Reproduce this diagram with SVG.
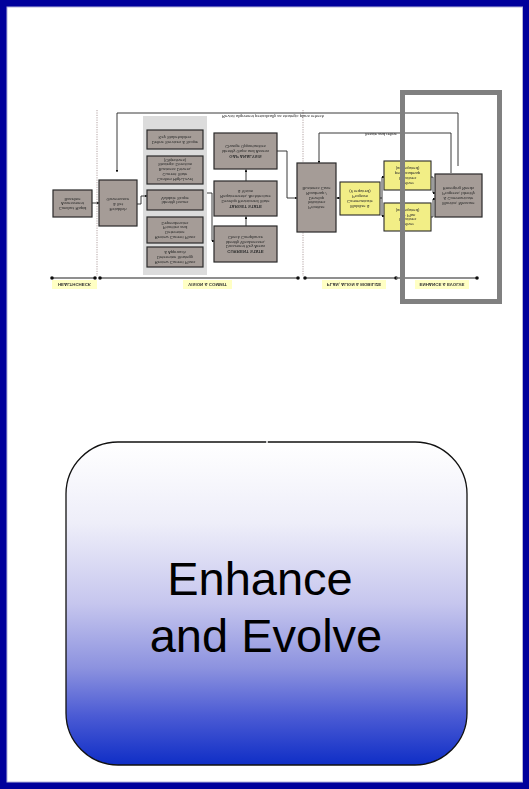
<svg xmlns="http://www.w3.org/2000/svg" width="529" height="789" viewBox="0 0 529 789">
  <defs>
    <linearGradient id="phaseFill" x1="0" y1="0" x2="0" y2="1">
      <stop offset="0" stop-color="#ffffff"/>
      <stop offset="0.25" stop-color="#eeeef9"/>
      <stop offset="0.5" stop-color="#c6c6ee"/>
      <stop offset="0.7" stop-color="#8c92df"/>
      <stop offset="0.85" stop-color="#4a5ad4"/>
      <stop offset="1" stop-color="#0f2ec6"/>
    </linearGradient>
    <marker id="arr" viewBox="0 0 6 6" refX="5.5" refY="3" markerWidth="3" markerHeight="3" orient="auto">
      <path d="M0,0 L6,3 L0,6 z" fill="#111"/>
    </marker>
    <marker id="dot" viewBox="0 0 6 6" refX="3" refY="3" markerWidth="3" markerHeight="3">
      <circle cx="3" cy="3" r="2.6" fill="#111"/>
    </marker>
    <filter id="soft" x="-2%" y="-2%" width="104%" height="104%">
      <feGaussianBlur stdDeviation="0.3"/>
    </filter>
  </defs>
  <style>
    .box { fill: #a59c97; stroke: #2a2a2a; stroke-width: 1.2; }
    .ybox { fill: #f2ee86; stroke: #2a2a2a; stroke-width: 1.1; }
    .lbl { fill: #ffffc4; }
    .t { font-family: "Liberation Sans", Arial, sans-serif; font-size: 4.2px; fill: #2b2b2b; text-anchor: middle; }
    .tb { font-family: "Liberation Sans", Arial, sans-serif; font-size: 4.4px; font-weight: bold; fill: #333; text-anchor: middle; }
    .conn { fill: none; stroke: #222; stroke-width: 0.9; }
    .phase { fill: none; stroke: #6a6a6a; stroke-width: 1.4; }
    .div { stroke: #a08c8c; stroke-width: 0.8; stroke-dasharray: 1.2 1.2; }
    .big { font-family: "Liberation Sans", Arial, sans-serif; font-size: 47px; fill: #000; text-anchor: middle; }
  </style>

  <!-- page frame -->
  <rect x="0" y="0" width="529" height="789" fill="#00009c"/>
  <rect x="7" y="7" width="515.5" height="775" fill="#ffffff" stroke="#b4b4dc" stroke-width="1"/>

  <!-- process map (printed mirrored top-to-bottom) -->
  <g id="process-map" filter="url(#soft)">
    <rect id="vision-panel" x="143" y="116" width="64" height="159" fill="#dcdcdc"/>
    <line class="div" x1="97" y1="110" x2="97" y2="276"/>
    <line class="div" x1="303" y1="110" x2="303" y2="276"/>

    <g id="connectors">
      <path class="conn" d="M458,166 V113 H117 V172" marker-end="url(#arr)"/>
      <path class="conn" d="M451,173 V133 H319 V163" marker-end="url(#arr)"/>
      <path class="conn" d="M92,203 H99" marker-end="url(#arr)"/>
      <path class="conn" d="M137,204 H141 V196 H147" marker-end="url(#arr)"/>
      <path class="conn" d="M207,193 H212 V241 H214.5" marker-end="url(#arr)"/>
      <path class="conn" d="M246,226 V216.5" marker-end="url(#arr)"/>
      <path class="conn" d="M246,181 V169.5" marker-end="url(#arr)"/>
      <path class="conn" d="M277,151 H287 V198 H297" marker-end="url(#arr)"/>
      <path class="conn" d="M340,198 H336.5" marker-end="url(#arr)"/>
      <path class="conn" d="M380,198 H382 V177 H384.5" marker-end="url(#arr)"/>
      <path class="conn" d="M382,198 V216 H384.5" marker-end="url(#arr)"/>
      <path class="conn" d="M431,177 H433 V193 H435.5" marker-end="url(#arr)"/>
      <path class="conn" d="M431,217 H433 V199 H435.5" marker-end="url(#arr)"/>
      <!-- phase timeline -->
      <path class="phase" d="M52,278 H95" marker-start="url(#dot)" marker-end="url(#dot)"/>
      <path class="phase" d="M100,278 H298" marker-start="url(#dot)" marker-end="url(#dot)"/>
      <path class="phase" d="M305,278 H396" marker-start="url(#dot)" marker-end="url(#dot)"/>
      <path class="phase" d="M396,278 H477" marker-end="url(#dot)"/>
      <g transform="translate(273,116.5) scale(1,-1)"><text class="t" x="0" y="1.2">Revisit alignment periodically as strategic plans refresh</text></g>
      <g transform="translate(381,134.5) scale(1,-1)"><text class="t" x="0" y="1.2">Iterate and refine</text></g>
    </g>

    <g id="healthcheck">
      <rect class="box" x="53" y="190" width="39" height="27"/>
      <g transform="translate(72.5,203.5) scale(1,-1)">
        <text class="t" y="-3.5">Conduct Rapid</text>
        <text class="t" y="1.2">Assessment</text>
        <text class="t" y="5.9">Baseline</text>
      </g>
    </g>
    <g id="establish">
      <rect class="box" x="99" y="180" width="38" height="46"/>
      <g transform="translate(118,203) scale(1,-1)">
        <text class="t" y="-4.5">Establish</text>
        <text class="t" y="0.2">&amp; Set</text>
        <text class="t" y="4.9">Governance</text>
      </g>
    </g>
    <g id="vision-1">
      <rect class="box" x="147" y="130" width="56" height="19"/>
      <g transform="translate(175,139.5) scale(1,-1)">
        <text class="t" y="-1.2">Define Services &amp; Scope</text>
        <text class="t" y="3.5">Key Stakeholders</text>
      </g>
    </g>
    <g id="vision-2">
      <rect class="box" x="147" y="156" width="56" height="28"/>
      <g transform="translate(175,170) scale(1,-1)">
        <text class="t" y="-7.5">Confirm High-Level</text>
        <text class="t" y="-2.8">Current State</text>
        <text class="t" y="1.9">Business Drivers,</text>
        <text class="t" y="6.6">Strategic Direction</text>
        <text class="t" y="11.3">(Objectives)</text>
      </g>
    </g>
    <g id="vision-3">
      <rect class="box" x="147" y="190" width="56" height="20"/>
      <g transform="translate(175,200) scale(1,-1)">
        <text class="t" y="-1.2">Identify Issues</text>
        <text class="t" y="3.5">Validate Scope</text>
      </g>
    </g>
    <g id="vision-4">
      <rect class="box" x="147" y="217" width="56" height="26"/>
      <g transform="translate(175,230) scale(1,-1)">
        <text class="t" y="-5.8">Review Current Plans</text>
        <text class="t" y="-1.1">Determine</text>
        <text class="t" y="3.6">Priorities and</text>
        <text class="t" y="8.3">Dependencies</text>
      </g>
    </g>
    <g id="vision-5">
      <rect class="box" x="147" y="247" width="56" height="20"/>
      <g transform="translate(175,257) scale(1,-1)">
        <text class="t" y="-3.5">Review Current Plans</text>
        <text class="t" y="1.2">Determine Strategy</text>
        <text class="t" y="5.9">&amp; Approach</text>
      </g>
    </g>
    <g id="gap-analysis">
      <rect class="box" x="214" y="133" width="63" height="36"/>
      <g transform="translate(245.5,151) scale(1,-1)">
        <text class="tb" y="-3.5">GAP ANALYSIS</text>
        <text class="t" y="1.2">Identify Gaps and Assess</text>
        <text class="t" y="5.9">Change Opportunities</text>
      </g>
    </g>
    <g id="target-state">
      <rect class="box" x="214" y="181" width="63" height="35"/>
      <g transform="translate(245.5,198.5) scale(1,-1)">
        <text class="tb" y="-6">TARGET STATE</text>
        <text class="t" y="-1.3">Develop Envisioned State</text>
        <text class="t" y="3.4">Requirements, Architecture</text>
        <text class="t" y="8.1">&amp; Vision</text>
      </g>
    </g>
    <g id="current-state">
      <rect class="box" x="214" y="226" width="63" height="36"/>
      <g transform="translate(245.5,244) scale(1,-1)">
        <text class="tb" y="-6">CURRENT STATE</text>
        <text class="t" y="-1.3">Document Key Areas</text>
        <text class="t" y="3.4">Identify Weaknesses,</text>
        <text class="t" y="8.1">Check Compliance</text>
      </g>
    </g>
    <g id="roadmap">
      <rect class="box" x="297" y="163" width="39" height="69"/>
      <g transform="translate(316.5,197.5) scale(1,-1)">
        <text class="t" y="-8.5">Prioritize</text>
        <text class="t" y="-3.8">Initiatives</text>
        <text class="t" y="0.9">Develop</text>
        <text class="t" y="5.6">Roadmap /</text>
        <text class="t" y="10.3">Business Case</text>
      </g>
    </g>
    <g id="mobilize">
      <rect class="ybox" x="340" y="182" width="40" height="33"/>
      <g transform="translate(360,198.5) scale(1,-1)">
        <text class="t" y="-6">Mobilize &amp;</text>
        <text class="t" y="-1.3">Communicate</text>
        <text class="t" y="3.4">Program</text>
        <text class="t" y="8.1">(if required)</text>
      </g>
    </g>
    <g id="deliver-1">
      <rect class="ybox" x="384" y="161" width="47" height="29"/>
      <g transform="translate(407.5,175.5) scale(1,-1)">
        <text class="t" y="-6">Deliver</text>
        <text class="t" y="-1.3">Initiatives</text>
        <text class="t" y="3.4">per Roadmap</text>
        <text class="t" y="8.1">(as required)</text>
      </g>
    </g>
    <g id="deliver-2">
      <rect class="ybox" x="384" y="203" width="47" height="28"/>
      <g transform="translate(407.5,217) scale(1,-1)">
        <text class="t" y="-6">Deliver</text>
        <text class="t" y="-1.3">Initiatives</text>
        <text class="t" y="3.4">per Plan</text>
        <text class="t" y="8.1">(as required)</text>
      </g>
    </g>
    <g id="monitor">
      <rect class="box" x="435" y="174" width="47" height="43"/>
      <g transform="translate(458.5,195.5) scale(1,-1)">
        <text class="t" y="-6">Monitor, Measure</text>
        <text class="t" y="-1.3">&amp; Communicate</text>
        <text class="t" y="3.4">Progress; Identify</text>
        <text class="t" y="8.1">Emerging Needs</text>
      </g>
    </g>

    <!-- phase labels -->
    <g id="phase-labels">
      <rect class="lbl" x="52" y="280" width="45" height="9"/>
      <g transform="translate(74.5,284.5) scale(1,-1)"><text class="tb" y="1.5">HEALTHCHECK</text></g>
      <rect class="lbl" x="183" y="280" width="49" height="9"/>
      <g transform="translate(207.5,284.5) scale(1,-1)"><text class="tb" y="1.5">VISION &amp; COMMIT</text></g>
      <rect class="lbl" x="322" y="280" width="64" height="9"/>
      <g transform="translate(354,284.5) scale(1,-1)"><text class="tb" y="1.5">PLAN, ALIGN &amp; MOBILIZE</text></g>
      <rect class="lbl" x="415" y="280" width="54" height="9"/>
      <g transform="translate(442,284.5) scale(1,-1)"><text class="tb" y="1.5">ENHANCE &amp; EVOLVE</text></g>
    </g>
  </g>

  <!-- highlight around the current phase -->
  <rect id="highlight" x="402.5" y="92.5" width="97" height="209" fill="none" stroke="#808080" stroke-width="5"/>

  <!-- phase title card -->
  <g id="title-card">
    <rect x="66" y="442" width="401" height="323" rx="52" ry="52" fill="url(#phaseFill)" stroke="#111" stroke-width="1.3"/>
    <line x1="267" y1="439" x2="267" y2="445" stroke="#ffffff" stroke-width="1.5"/>
    <text class="big" x="260" y="595">Enhance</text>
    <text class="big" x="266" y="652">and Evolve</text>
  </g>
</svg>
